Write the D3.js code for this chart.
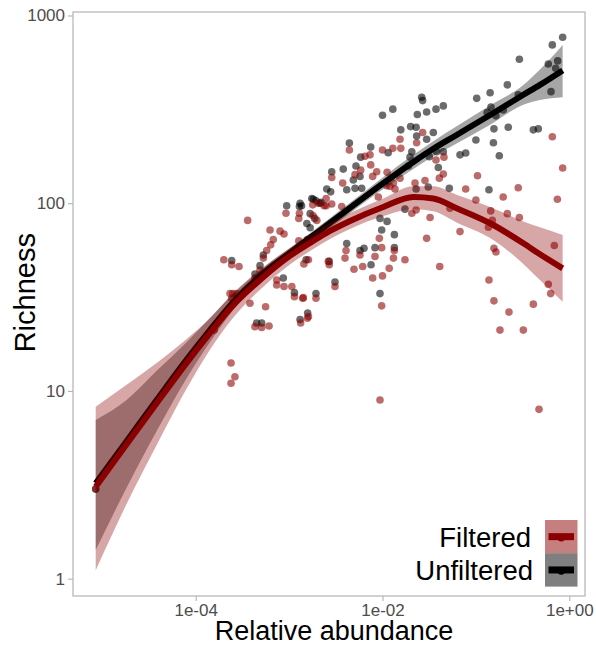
<!DOCTYPE html>
<html>
<head>
<meta charset="utf-8">
<script src="https://cdn.jsdelivr.net/npm/d3@7"></script>
<style>
  body { margin: 0; background: #fff; }
  svg text { font-family: "Liberation Sans", Arial, sans-serif; }
</style>
</head>
<body>
<svg id="chart" width="596" height="646"></svg>
<script>
// points: [relative abundance, richness]
var unfilteredPts = [
  [8.5e-6, 3], [9.42e-4, 97], [1.29e-3, 96], [5.3e-4, 53], [2.43e-4, 49.5], [4.88e-4, 46.5],
  [4.31e-4, 42], [8.67e-4, 40], [1.31e-3, 24], [1.82e-3, 105], [1.36e-3, 97], [1.55e-3, 78],
  [1.52e-3, 50], [1.14e-3, 33.4], [1.94e-3, 33], [1.58e-3, 26], [4.5e-4, 23], [5.09e-4, 23],
  [2.63e-2, 367], [2.69e-2, 352], [4.48e-2, 330], [3.74e-2, 317], [2.97e-2, 306], [2.36e-2, 297],
  [1.29e-2, 317], [1.0e-2, 294], [2.0e-2, 256], [2.29e-2, 254], [2.32e-2, 228], [3.5e-2, 238],
  [2.97e-2, 219], [1.57e-2, 246], [4.42e-3, 209], [7.48e-3, 199], [5.84e-3, 176], [1.15e-2, 186],
  [2.06e-2, 188], [1.97e-2, 176], [3.8e-2, 188], [3.17e-2, 177], [3.8e-3, 152], [5.2e-3, 158],
  [5.74e-3, 139], [4.87e-3, 133], [2.86e-3, 147], [1.89e-2, 158], [3.96e-2, 155], [4.14e-3, 118],
  [5.08e-3, 120], [5.99e-3, 120], [2.53e-3, 119], [2.79e-3, 115], [2.29e-2, 119], [3.09e-2, 122],
  [5.19e-2, 120], [1.75e-3, 106], [2.14e-3, 100], [0.849, 766], [0.658, 697], [0.292, 585],
  [0.596, 552], [0.751, 573], [0.715, 524], [0.637, 393], [0.217, 427], [0.142, 388],
  [0.102, 362], [0.145, 325], [0.164, 292], [0.196, 314], [0.284, 378], [0.132, 304],
  [0.156, 249], [0.222, 254], [0.412, 246], [0.466, 249], [0.1, 217], [0.154, 210],
  [0.178, 179], [6.76e-2, 181], [7.78e-2, 185], [0.138, 118], [4.48e-2, 188], [1.74e-2, 93],
  [9.4e-3, 83], [1.12e-2, 80], [9.8e-3, 72], [1.34e-2, 68], [4.14e-3, 61], [5.74e-3, 56],
  [6.34e-3, 57.5], [8.31e-3, 58], [1.34e-2, 58], [7.54e-3, 47], [2.69e-3, 49], [3.1e-3, 38],
  [9.4e-3, 33], [1.68e-3, 74], [1.94e-3, 103], [1.31e-3, 100], [2.2e-3, 101], [1.68e-3, 88],
  [1.88e-3, 83]
];
var filteredPts = [
  [8.5e-6, 3], [3.6e-4, 81], [9.26e-4, 88.5], [1.27e-3, 83], [6.25e-4, 72], [8.0e-4, 71],
  [8.82e-4, 68.6], [6.77e-4, 64], [6.35e-4, 60], [5.75e-4, 56], [5.3e-4, 51], [2.0e-4, 50],
  [2.43e-4, 47], [2.91e-4, 46], [4.88e-4, 44], [4.31e-4, 40], [7.37e-4, 36.7], [8.82e-4, 36],
  [1.07e-3, 36], [1.14e-3, 31.8], [2.33e-4, 33], [2.5e-4, 33], [2.75e-4, 33], [2.43e-4, 31.2],
  [3.81e-4, 29.3], [5.6e-4, 28.1], [4.31e-4, 22], [5.09e-4, 21.8], [6.1e-4, 22.2], [1.33e-3, 23],
  [1.61e-3, 24.9], [1.58e-4, 21.1], [2.39e-4, 14.1], [2.63e-4, 11.9], [2.39e-4, 11], [1.29e-3, 88.5],
  [1.79e-3, 98], [2.06e-3, 100], [2.37e-3, 97], [1.8e-3, 86], [1.98e-3, 81], [1.27e-3, 63],
  [1.57e-3, 64], [1.61e-3, 50], [1.44e-3, 47.5], [2.63e-3, 49], [7.37e-4, 39], [1.4e-3, 31.2],
  [1.94e-3, 31.2], [2.69e-2, 238], [2.32e-2, 210], [1.54e-2, 219], [4.42e-3, 192], [7.35e-3, 181],
  [6.5e-3, 178], [1.29e-2, 196], [1.57e-2, 196], [1.0e-2, 192], [4.55e-2, 176], [3.74e-2, 170],
  [5.84e-3, 150], [5.08e-3, 142], [2.86e-3, 137], [7.48e-3, 160], [7.85e-3, 139], [8.67e-3, 147],
  [1.12e-2, 146], [1.54e-2, 136], [1.31e-2, 128], [4.06e-2, 136], [4.48e-2, 143], [3.75e-3, 128],
  [2.49e-3, 106], [9.02e-3, 108], [1.11e-2, 124], [1.2e-2, 123], [1.36e-2, 119], [2.23e-2, 128],
  [2.85e-2, 132], [3.66e-3, 96], [0.658, 226], [0.849, 154], [0.745, 105], [0.104, 140],
  [0.284, 121], [0.196, 108], [7.78e-2, 119], [0.1, 104], [0.144, 91], [0.217, 88],
  [0.292, 84], [6.76e-2, 70.6], [0.136, 74.5], [0.691, 59.5], [4.1e-2, 46], [0.156, 57.5],
  [0.164, 55], [0.138, 39], [0.596, 37], [0.632, 33], [0.156, 30.2], [0.226, 26.3],
  [0.412, 29], [0.181, 21.1], [0.322, 21.1], [9.4e-3, 8.95], [0.474, 7.98], [5.28e-2, 94],
  [0.15, 81], [2.29e-2, 92], [2.06e-2, 88.5], [3.23e-2, 84], [2.97e-2, 65], [9.25e-3, 65],
  [4.07e-3, 56], [5.74e-3, 53], [9.8e-3, 58], [8.31e-3, 52], [1.34e-2, 56], [1.31e-2, 51],
  [1.74e-2, 50], [6.14e-3, 46], [4.95e-3, 44.5], [7.85e-3, 40], [1.0e-2, 41], [1.18e-2, 45],
  [2.69e-3, 47], [3.97e-3, 51], [3.1e-3, 36], [9.8e-3, 28.4], [1.42e-3, 31.4], [1.57e-3, 24.4],
  [2.49e-3, 97], [2.86e-3, 99]
];

// smoothed fits with confidence band
var fitAbund = [8.5e-6, 1.82e-5, 3.82e-5, 8.0e-5, 1.42e-4, 2.53e-4, 4.88e-4, 1.02e-3, 1.68e-3,
  2.74e-3, 4.49e-3, 1.02e-2, 2.14e-2, 3.5e-2, 6.22e-2, 0.142, 0.322, 0.485, 0.849];
var filteredFit = [3.09, 5.2, 8.6, 14.1, 20.3, 28.7, 39, 52.4, 61.5, 71.2, 80.5, 95.5, 108, 106, 94, 78.2, 61.2, 53.5, 45];
var filteredLo = [1.11, 2.5, 5.15, 10.3, 16.6, 24.6, 34.6, 47.2, 55.7, 64.5, 73, 85.5, 93, 90.5, 79, 65.2, 47.5, 39, 29.9];
var filteredHi = [8.25, 10.8, 14.1, 18.9, 24.4, 33.3, 44, 57.8, 67.8, 78.5, 88.7, 106, 123, 123, 111, 95.5, 80, 74.5, 67.8];
var unfilteredFit = [3.22, 5.4, 8.95, 14.7, 21.1, 29.8, 41, 54.4, 65.5, 78.5, 94.4, 128, 166, 195, 231, 295, 378, 427, 510];
var unfilteredLo = [1.42, 3.05, 6.12, 11.7, 18.2, 27, 38.1, 51, 61.5, 73.5, 88.5, 119, 152, 178, 208, 262, 335, 355, 367];
var unfilteredHi = [7.0, 8.95, 12.8, 18.2, 24.5, 32.9, 44.1, 57.8, 69.5, 83.5, 100.5, 138, 181, 214, 257, 332, 426, 515, 697];

var yTicks = [1, 10, 100, 1000];
var xTicks = [1e-4, 1e-2, 1];
var xTickLabels = ['1e-04', '1e-02', '1e+00'];
var groups = ['Filtered', 'Unfiltered'];

var colors = { Filtered: '#8b0000', Unfiltered: '#000000' };

var svg = d3.select('#chart');
var panelL = 73, panelR = 585, panelT = 12, panelB = 596;

var x = d3.scaleLog().domain([Math.pow(10, -5.3137), Math.pow(10, 0.1681)]).range([panelL, panelR]);
var y = d3.scaleLog().domain([Math.pow(10, -0.0922), Math.pow(10, 3.0186)]).range([panelB, panelT]);

// axes
var xAxis = d3.axisBottom(x).tickValues(xTicks).tickSize(5).tickPadding(3)
  .tickFormat(function (d, i) { return xTickLabels[i]; });
var yAxis = d3.axisLeft(y).tickValues(yTicks).tickSize(5).tickPadding(3)
  .tickFormat(d3.format('d'));

var gx = svg.append('g').attr('transform', 'translate(0,' + panelB + ')').call(xAxis);
var gy = svg.append('g').attr('transform', 'translate(' + panelL + ',0)').call(yAxis);
[gx, gy].forEach(function (g) {
  g.select('.domain').remove();
  g.selectAll('.tick line').attr('stroke', '#b3b3b3').attr('stroke-width', 1.1);
  g.selectAll('.tick text').attr('fill', '#4d4d4d').style('font-size', '17px');
});

// points
function drawPoints(data, color) {
  svg.append('g').selectAll('circle').data(data).enter().append('circle')
    .attr('cx', function (d) { return x(d[0]); })
    .attr('cy', function (d) { return y(d[1]); })
    .attr('r', 3.8)
    .attr('fill', color)
    .attr('fill-opacity', 0.58);
}
drawPoints(unfilteredPts, colors.Unfiltered);
drawPoints(filteredPts, colors.Filtered);

// smooths
function drawSmooth(fit, lo, hi, color) {
  var rows = fitAbund.map(function (a, i) { return { a: a, f: fit[i], lo: lo[i], hi: hi[i] }; });
  var area = d3.area().curve(d3.curveMonotoneX)
    .x(function (d) { return x(d.a); })
    .y0(function (d) { return y(d.lo); })
    .y1(function (d) { return y(d.hi); });
  var line = d3.line().curve(d3.curveMonotoneX)
    .x(function (d) { return x(d.a); })
    .y(function (d) { return y(d.f); });
  svg.append('path').datum(rows).attr('d', area).attr('fill', color).attr('fill-opacity', 0.35);
  svg.append('path').datum(rows).attr('d', line).attr('fill', 'none')
    .attr('stroke', color).attr('stroke-width', 6);
}
drawSmooth(unfilteredFit, unfilteredLo, unfilteredHi, colors.Unfiltered);
drawSmooth(filteredFit, filteredLo, filteredHi, colors.Filtered);

// panel border
svg.append('rect').attr('x', panelL).attr('y', panelT).attr('width', panelR - panelL).attr('height', panelB - panelT)
  .attr('fill', 'none').attr('stroke', '#b3b3b3').attr('stroke-width', 1.2);

// axis titles
svg.append('text').attr('x', 334).attr('y', 640).attr('text-anchor', 'middle')
  .style('font-size', '27px').attr('fill', '#000').text('Relative abundance');
svg.append('text').attr('transform', 'translate(35,292.7) rotate(-90)').attr('text-anchor', 'middle')
  .style('font-size', '29px').attr('fill', '#000').text('Richness');

// legend
var keyX = 545, keyW = 32.5, keyH = 33.3, keyY0 = 520;
var lg = svg.append('g');
groups.forEach(function (g, i) {
  var ky = keyY0 + i * keyH;
  lg.append('rect').attr('x', keyX).attr('y', ky).attr('width', keyW).attr('height', keyH)
    .attr('fill', colors[g]).attr('fill-opacity', 0.5);
  lg.append('circle').attr('cx', keyX + keyW / 2).attr('cy', ky + keyH / 2 + 1).attr('r', 3.8)
    .attr('fill', colors[g]);
  lg.append('line').attr('x1', keyX + 3.5).attr('x2', keyX + keyW - 3.5)
    .attr('y1', ky + keyH / 2).attr('y2', ky + keyH / 2)
    .attr('stroke', colors[g]).attr('stroke-width', 7);
  lg.append('text').attr('x', keyX - 14 + (i === 1 ? 2 : 0)).attr('y', ky + keyH / 2 + 10)
    .attr('text-anchor', 'end').style('font-size', '27.5px').attr('fill', '#000').text(g);
});
</script>
</body>
</html>
